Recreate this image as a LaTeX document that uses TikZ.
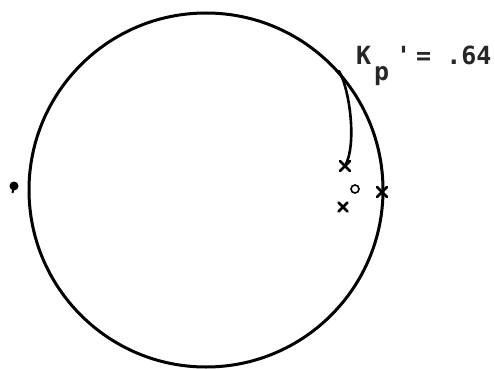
\documentclass[tikz,border=0pt]{standalone}
\usepackage{fontspec}
\usepackage{tikz}
\usetikzlibrary{calc}
\newfontfamily\plotfont{DejaVu Sans Mono}

\tikzset{
  locus/.style={line width=3pt, line cap=round},
  xmark/.style={line width=2.6pt, line cap=round},
  label/.style={font=\plotfont\bfseries\fontsize{25}{28}\selectfont, inner sep=0pt, anchor=base west, text=black!85}
}

\begin{document}
\begin{tikzpicture}[x=1pt, y=-1pt]
\useasboundingbox (0,0) rectangle (495,369);

% =================== unit circle ===================
\coordinate (O) at (206,190);
\draw[locus] (O) circle (177);

% =================== locus branch ===================
\coordinate (B0) at (339,71);
\coordinate (B1) at (345,166);
\draw[locus, line width=2.6pt] (B0) .. controls (350,90) and (357,145) .. (B1);

% =================== poles (x) and zero (o) ===================
\foreach \n/\px/\py/\s in {P1/345/166/5, P2/343/207/4.5, P3/382/192/5}{
  \coordinate (\n) at (\px,\py);
  \draw[xmark] ($(\n)+(-\s,-\s)$) -- ($(\n)+(\s,\s)$);
  \draw[xmark] ($(\n)+(-\s,\s)$) -- ($(\n)+(\s,-\s)$);
}
\coordinate (Z1) at (355,189);
\draw[line width=1.6pt] (Z1) circle (4);

% left-hand pole marker
\coordinate (L1) at (14,186);
\fill (L1) circle (4.5);
\draw[line width=2pt] (L1) -- ++(-1.5,7);

% =================== gain label ===================
\node[label] (k) at (356,65) {K};
\node[label] (kp) at (374,81) {p};
\node[label] (eq) at (396,65) {'};
\node[label] (val) at (416,65) {= .64};

\end{tikzpicture}
\end{document}
